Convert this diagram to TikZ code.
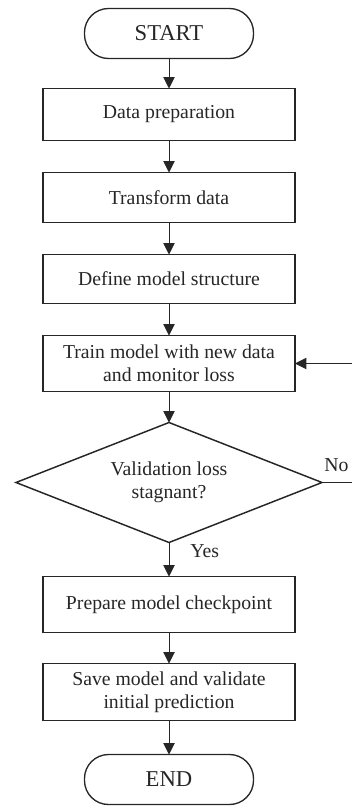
\documentclass[tikz,border=0pt]{standalone}
\usepackage{fontspec}
\setmainfont{Liberation Serif}
\usepackage{tikz}
\usetikzlibrary{shapes, arrows.meta, positioning}
\tikzstyle{terminal} = [draw=black!85, line width=1pt, outer sep=0pt, rectangle, rounded corners=18pt, minimum width=126.75pt, minimum height=37.5pt, text=black!85, font=\fontsize{17}{20}\selectfont]
\tikzstyle{proceso} = [draw=black!85, line width=1.2pt, outer sep=0pt, rectangle, minimum width=189pt, minimum height=38pt, align=center, text=black!85]
\tikzstyle{decision} = [draw=black!85, line width=1.1pt, outer sep=0pt, diamond, aspect=2.55, inner sep=0pt, minimum width=229.5pt, minimum height=90pt, align=center, text=black!85]
\tikzstyle{flecha} = [draw=black!85, line width=0.7pt, -{Triangle[length=8.5pt,width=8.5pt]}]
\tikzstyle{etiqueta} = [inner sep=1.5pt, text=black!85]

\begin{document}
\begin{tikzpicture}[font=\fontsize{14.8}{17.5}\selectfont]
	\useasboundingbox (0,0) rectangle (264pt,-604.5pt);
	\node [terminal] (start) at (126.75pt,-25.125pt) {START};
	\node [proceso, below=22.5pt of start, minimum height=39pt] (prep) {Data preparation};
	\node [proceso, below=24pt of prep, minimum height=37.5pt] (trans) {Transform data};
	\node [proceso, below=24pt of trans, minimum height=36.75pt] (defin) {Define model structure};
	\node [proceso, below=24pt of defin, minimum height=42pt] (train) {Train model with new data\\and monitor loss};
	\node [decision, below=23.25pt of train] (valid) {Validation loss\\stagnant?};
	\node [proceso, below=25.5pt of valid, minimum height=42pt] (check) {Prepare model checkpoint};
	\node [proceso, below=23.25pt of check, minimum height=42.75pt] (save) {Save model and validate\\initial prediction};
	\node [terminal, below=25.5pt of save] (end) {END};
	\node [etiqueta, above right=6.75pt and 0pt of valid.east] (no) {No};
	\node [etiqueta, below right=0pt and 14.25pt of valid.south] (yes) {Yes};

	\draw [flecha] (start) -- (prep);
	\draw [flecha] (prep) -- (trans);
	\draw [flecha] (trans) -- (defin);
	\draw [flecha] (defin) -- (train);
	\draw [flecha] (train) -- (valid);
	\draw [flecha] (valid) -- (check);
	\draw [flecha] (check) -- (save);
	\draw [flecha] (save) -- (end);
	\draw [flecha] (valid.east) -- ++(24pt,0) |- (train.east);
\end{tikzpicture}
\end{document}
